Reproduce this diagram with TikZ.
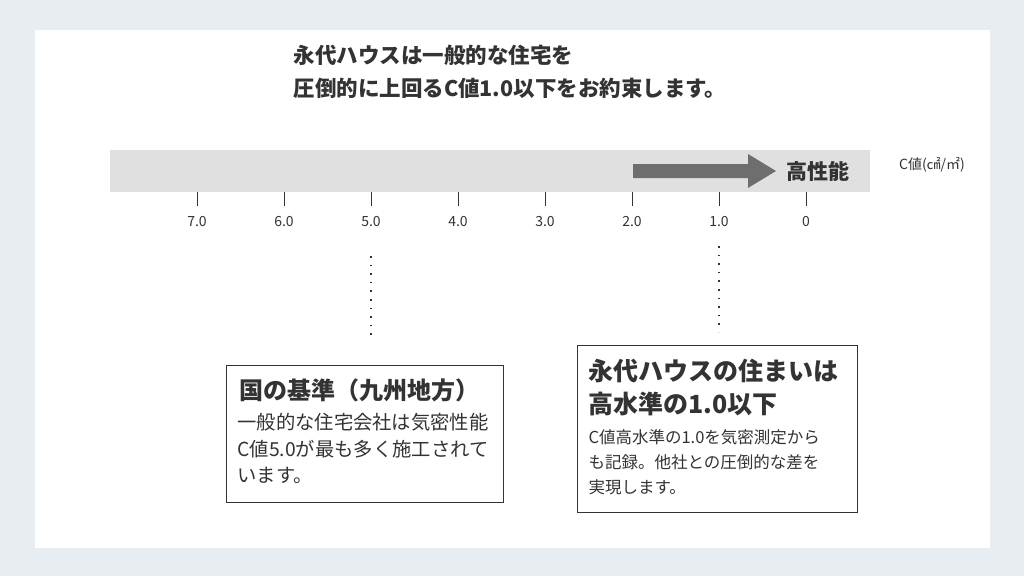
\documentclass[tikz,border=0pt]{standalone}
\usepackage{fontspec}
\setmainfont{Noto Sans CJK JP}
\usetikzlibrary{arrows.meta}
\definecolor{outerbg}{HTML}{E8EDF2}
\definecolor{barc}{HTML}{E0E0E0}
\definecolor{arrc}{HTML}{6E6E6E}
\definecolor{txt}{HTML}{333333}
\begin{document}
\begin{tikzpicture}[x=1pt,y=-1pt,
  tick/.style={draw=txt,line width=1pt},
  ticklbl/.style={font=\fontsize{14}{16}\selectfont,text=txt},
  dots/.style={draw=txt,line width=1.6pt,dash pattern=on 1.6pt off 7pt},
  infobox/.style={draw=txt,line width=1pt,fill=white}]
\useasboundingbox (0,0) rectangle (1024,576);
\fill[outerbg] (0,0) rectangle (1024,576);
\fill[white] (35,30) rectangle (990,548);
\node[anchor=west,align=left,text=txt,font=\fontsize{21.5}{33}\selectfont\bfseries] (title) at (290,72) {永代ハウスは一般的な住宅を\\圧倒的に上回るC値1.0以下をお約束します。};
\fill[barc] (110,150) rectangle (870,192);
\fill[arrc] (633,164) -- (748,164) -- (748,154) -- (776,171) -- (748,188) -- (748,178) -- (633,178) -- cycle;
\node[font=\fontsize{21}{22}\selectfont\bfseries,text=txt] (hp) at (818,171) {高性能};
\node[font=\fontsize{14}{16}\selectfont,text=txt] (unit) at (932,165) {C値(㎠/㎡)};
\foreach \x/\l [count=\i] in {197/7.0,284/6.0,371/5.0,458/4.0,545/3.0,632/2.0,719/1.0,806/0}{
  \draw[tick] (\x,192) -- (\x,206);
  \node[ticklbl] (t\i) at (\x,222) {\l};
}
\coordinate (d1a) at (371,256); \coordinate (d1b) at (371,342);
\coordinate (d2a) at (719,246); \coordinate (d2b) at (719,332);
\draw[dots] (d1a) -- (d1b);
\draw[dots] (d2a) -- (d2b);
\draw[infobox] (226,365) rectangle (503,502);
\node[anchor=west,text=txt,font=\fontsize{24}{26}\selectfont\bfseries] (b1t) at (236,390) {国の基準（九州地方）};
\node[anchor=north west,align=left,text=txt,font=\fontsize{19.3}{26.5}\selectfont] (b1) at (234,410) {一般的な住宅会社は気密性能\\C値5.0が最も多く施工されて\\います。};
\draw[infobox] (577,345) rectangle (857,512);
\node[anchor=north west,align=left,text=txt,font=\fontsize{25}{33}\selectfont\bfseries] (b2t) at (585,356) {永代ハウスの住まいは\\高水準の1.0以下};
\node[anchor=north west,align=left,text=txt,font=\fontsize{16.5}{25}\selectfont] (b2) at (585,426) {C値高水準の1.0を気密測定から\\も記録。他社との圧倒的な差を\\実現します。};
\end{tikzpicture}
\end{document}
